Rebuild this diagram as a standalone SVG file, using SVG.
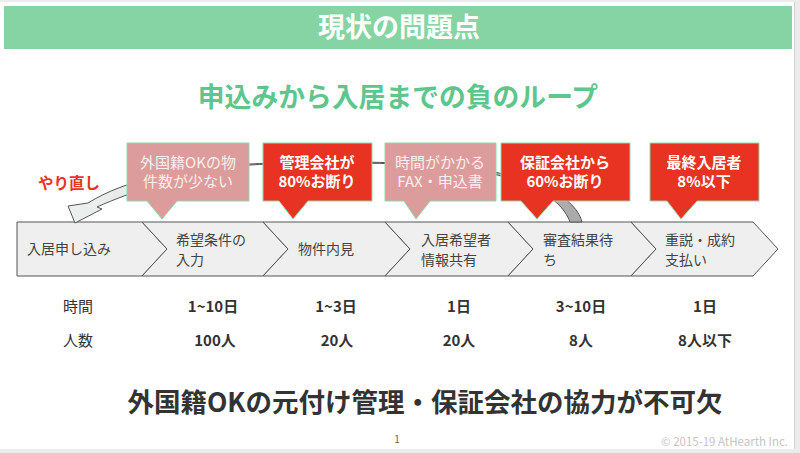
<svg xmlns="http://www.w3.org/2000/svg" width="800" height="453" viewBox="0 0 800 453">
<defs>
<linearGradient id="bandGrad" x1="0" y1="0" x2="1" y2="0">
<stop offset="0" stop-color="#eef0ef"/>
<stop offset="0.6" stop-color="#d0d0d0"/>
<stop offset="1" stop-color="#a9a9a9"/>
</linearGradient>
<style>
text{font-family:"Noto Sans CJK JP","Noto Sans",sans-serif;}
.chev{fill:#efefef;stroke:#555;stroke-width:1;}
.ctext{font-size:14px;fill:#444;}
.pink{fill:#dd9c9c;stroke:#8fd7aa;stroke-width:1;}
.red{fill:#e83222;stroke:#8fd7aa;stroke-width:1;}
.ptext{font-size:15px;fill:#fbeeee;text-anchor:middle;}
.rtext{font-size:15px;fill:#fff;font-weight:bold;text-anchor:middle;}
.lbl{font-size:15px;fill:#333;}
.val{font-size:15px;fill:#333;font-weight:bold;text-anchor:middle;}
</style>
</defs>
<rect x="0" y="0" width="800" height="453" fill="#ececec"/>
<rect x="0" y="2" width="794" height="447" fill="#ffffff"/>
<line x1="794.5" y1="2" x2="794.5" y2="449" stroke="#d2d2d2" stroke-width="1"/>

<g id="header">
<rect x="4" y="6" width="788" height="43" fill="#86d4a3"/>
<text x="399" y="37" font-size="27" font-weight="bold" fill="#ffffff" text-anchor="middle">現状の問題点</text>
</g>
<g id="subtitle">
<text x="398" y="107" font-size="26.8" font-weight="bold" fill="#5ec68c" text-anchor="middle">申込みから入居までの負のループ</text>
</g>

<g id="step1"><polygon class="chev" points="17,222 142,222 167,249 142,276 17,276"/><text class="ctext" x="27" y="254">入居申し込み</text></g>
<g id="step2"><polygon class="chev" points="142,222 263,222 288,249 263,276 142,276 167,249"/><text class="ctext" x="176" y="244.5">希望条件の</text><text class="ctext" x="176" y="265">入力</text></g>
<g id="step3"><polygon class="chev" points="263,222 385,222 410,249 385,276 263,276 288,249"/><text class="ctext" x="298" y="254">物件内見</text></g>
<g id="step4"><polygon class="chev" points="385,222 508,222 533,249 508,276 385,276 410,249"/><text class="ctext" x="421" y="244.5">入居希望者</text><text class="ctext" x="421" y="265">情報共有</text></g>
<g id="step5"><polygon class="chev" points="508,222 631,222 656,249 631,276 508,276 533,249"/><text class="ctext" x="543" y="244.5">審査結果待</text><text class="ctext" x="543" y="265">ち</text></g>
<g id="step6"><polygon class="chev" points="631,222 753,222 778,249 753,276 631,276 656,249"/><text class="ctext" x="665" y="244.5">重説・成約</text><text class="ctext" x="665" y="265">支払い</text></g>

<g id="connectors">
<path d="M582 222 C575 195 530 172 440 165 C380 161 300 161 250 164 C180 168 125 180 88 203 L68 206 L75 223 L102 209 L97 207 C130 192 190 172 250 165 C300 162 380 162 440 166 C520 173 560 195 570 222 Z" fill="url(#bandGrad)" stroke="#555" stroke-width="1" stroke-linejoin="round"/>
</g>

<g id="redo-label"><text x="38" y="189" font-size="15.5" font-weight="bold" fill="#e83222">やり直し</text></g>

<g id="callout1"><path class="pink" d="M127 143 H249 V201 H177 L162 219 L147 201 H127 Z"/><text class="ptext" x="188" y="168">外国籍OKの物</text><text class="ptext" x="188" y="187">件数が少ない</text></g>
<g id="callout2"><path class="red" d="M263 143 H372 V201 H308 L293 219 L279 201 H263 Z"/><text class="rtext" x="317" y="168">管理会社が</text><text class="rtext" x="317" y="187">80%お断り</text></g>
<g id="callout3"><path class="pink" d="M385 143 H496 V201 H430 L416 219 L404 201 H385 Z"/><text class="ptext" x="440" y="168">時間がかかる</text><text class="ptext" x="440" y="187">FAX・申込書</text></g>
<g id="callout4"><path class="red" d="M501 143 H630 V201 H553 L537 219 L521 201 H501 Z"/><text class="rtext" x="565" y="168">保証会社から</text><text class="rtext" x="565" y="187">60%お断り</text></g>
<g id="callout5"><path class="red" d="M650 143 H759 V201 H697 L681 219 L667 201 H650 Z"/><text class="rtext" x="704" y="168">最終入居者</text><text class="rtext" x="704" y="187">8%以下</text></g>

<g id="table">
<text class="lbl" x="63" y="312">時間</text>
<text class="val" x="213" y="312">1~10日</text>
<text class="val" x="336" y="312">1~3日</text>
<text class="val" x="459" y="312">1日</text>
<text class="val" x="581" y="312">3~10日</text>
<text class="val" x="705" y="312">1日</text>
<text class="lbl" x="63" y="346">人数</text>
<text class="val" x="215" y="346">100人</text>
<text class="val" x="337" y="346">20人</text>
<text class="val" x="459" y="346">20人</text>
<text class="val" x="581" y="346">8人</text>
<text class="val" x="705" y="346">8人以下</text>
</g>

<g id="conclusion"><text x="425" y="412" font-size="26.5" font-weight="bold" fill="#333" text-anchor="middle">外国籍OKの元付け管理・保証会社の協力が不可欠</text></g>
<g id="footer">
<text x="397" y="443" font-size="10" fill="#666" text-anchor="middle">1</text>
<text x="788" y="446" font-size="11.5" fill="#c4c4c4" text-anchor="end">© 2015-19 AtHearth Inc.</text>
</g>
</svg>
